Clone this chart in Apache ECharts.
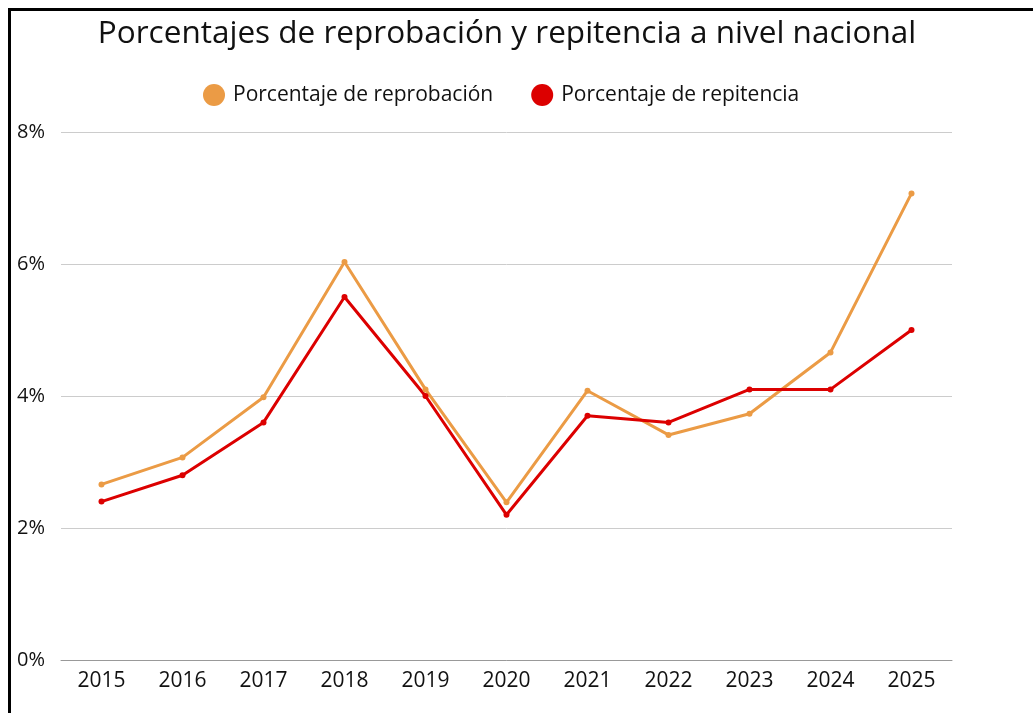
<!DOCTYPE html>
<html>
<head>
<meta charset="utf-8">
<script src="https://cdn.jsdelivr.net/npm/echarts@6/dist/echarts.min.js"></script>
<style>
  html, body { margin: 0; padding: 0; background: #fff; overflow: hidden; }
  #frame { position: absolute; left: 8px; top: 8px; width: 1200px; height: 900px; border-left: 3px solid #000; border-top: 3px solid #000; }
  #chart { position: absolute; left: 0; top: 0; width: 1033px; height: 713px; }
</style>
</head>
<body>
<div id="frame"></div>
<div id="chart"></div>
<script>
// data
const years = ['2015', '2016', '2017', '2018', '2019', '2020', '2021', '2022', '2023', '2024', '2025']
const reprobacion = [2.66, 3.07, 3.98, 6.03, 4.10, 2.39, 4.08, 3.41, 3.73, 4.66, 7.07]
const repitencia = [2.4, 2.8, 3.6, 5.5, 4.0, 2.2, 3.7, 3.6, 4.1, 4.1, 5.0]
const names = ['Porcentaje de reprobación', 'Porcentaje de repitencia']
const colors = ['#eb9b45', '#dc0000']

const font = '"Open Sans", "Noto Sans", sans-serif'
const chart = echarts.init(document.getElementById('chart'))

const option = {
    animation: false,
    title: {
        text: 'Porcentajes de reprobación y repitencia a nivel nacional',
        left: 502,
        top: 13,
        textAlign: 'center',
        textStyle: { fontFamily: font, fontSize: 31.5, fontWeight: 'normal', color: '#111' }
    },
    legend: {
        data: names,
        orient: 'horizontal',
        left: 198,
        top: 79,
        icon: 'circle',
        itemWidth: 22,
        itemHeight: 22,
        itemGap: 38,
        textStyle: { fontFamily: font, fontSize: 21, color: '#111', padding: [0, 0, 0, 3] }
    },
    grid: { left: 61, right: 81, top: 132, bottom: 53, containLabel: false },
    xAxis: {
        type: 'category',
        data: years,
        boundaryGap: true,
        axisLine: { lineStyle: { color: '#999', width: 1 } },
        axisTick: { show: false },
        axisLabel: { fontFamily: font, fontSize: 21, color: '#111', margin: 11 }
    },
    yAxis: {
        type: 'value',
        min: 0,
        max: 8,
        interval: 2,
        axisLine: { show: false },
        axisTick: { show: false },
        splitLine: { lineStyle: { color: '#ccc', width: 1 } },
        axisLabel: { formatter: '{value}%', fontFamily: font, fontSize: 20, color: '#111', margin: 16 }
    },
    series: [
        {
            name: names[0],
            type: 'line',
            data: reprobacion,
            color: colors[0],
            symbol: 'circle',
            symbolSize: 6,
            lineStyle: { width: 3 }
        },
        {
            name: names[1],
            type: 'line',
            data: repitencia,
            color: colors[1],
            symbol: 'circle',
            symbolSize: 6,
            lineStyle: { width: 3 }
        }
    ]
}
chart.setOption(option)
</script>
</body>
</html>
